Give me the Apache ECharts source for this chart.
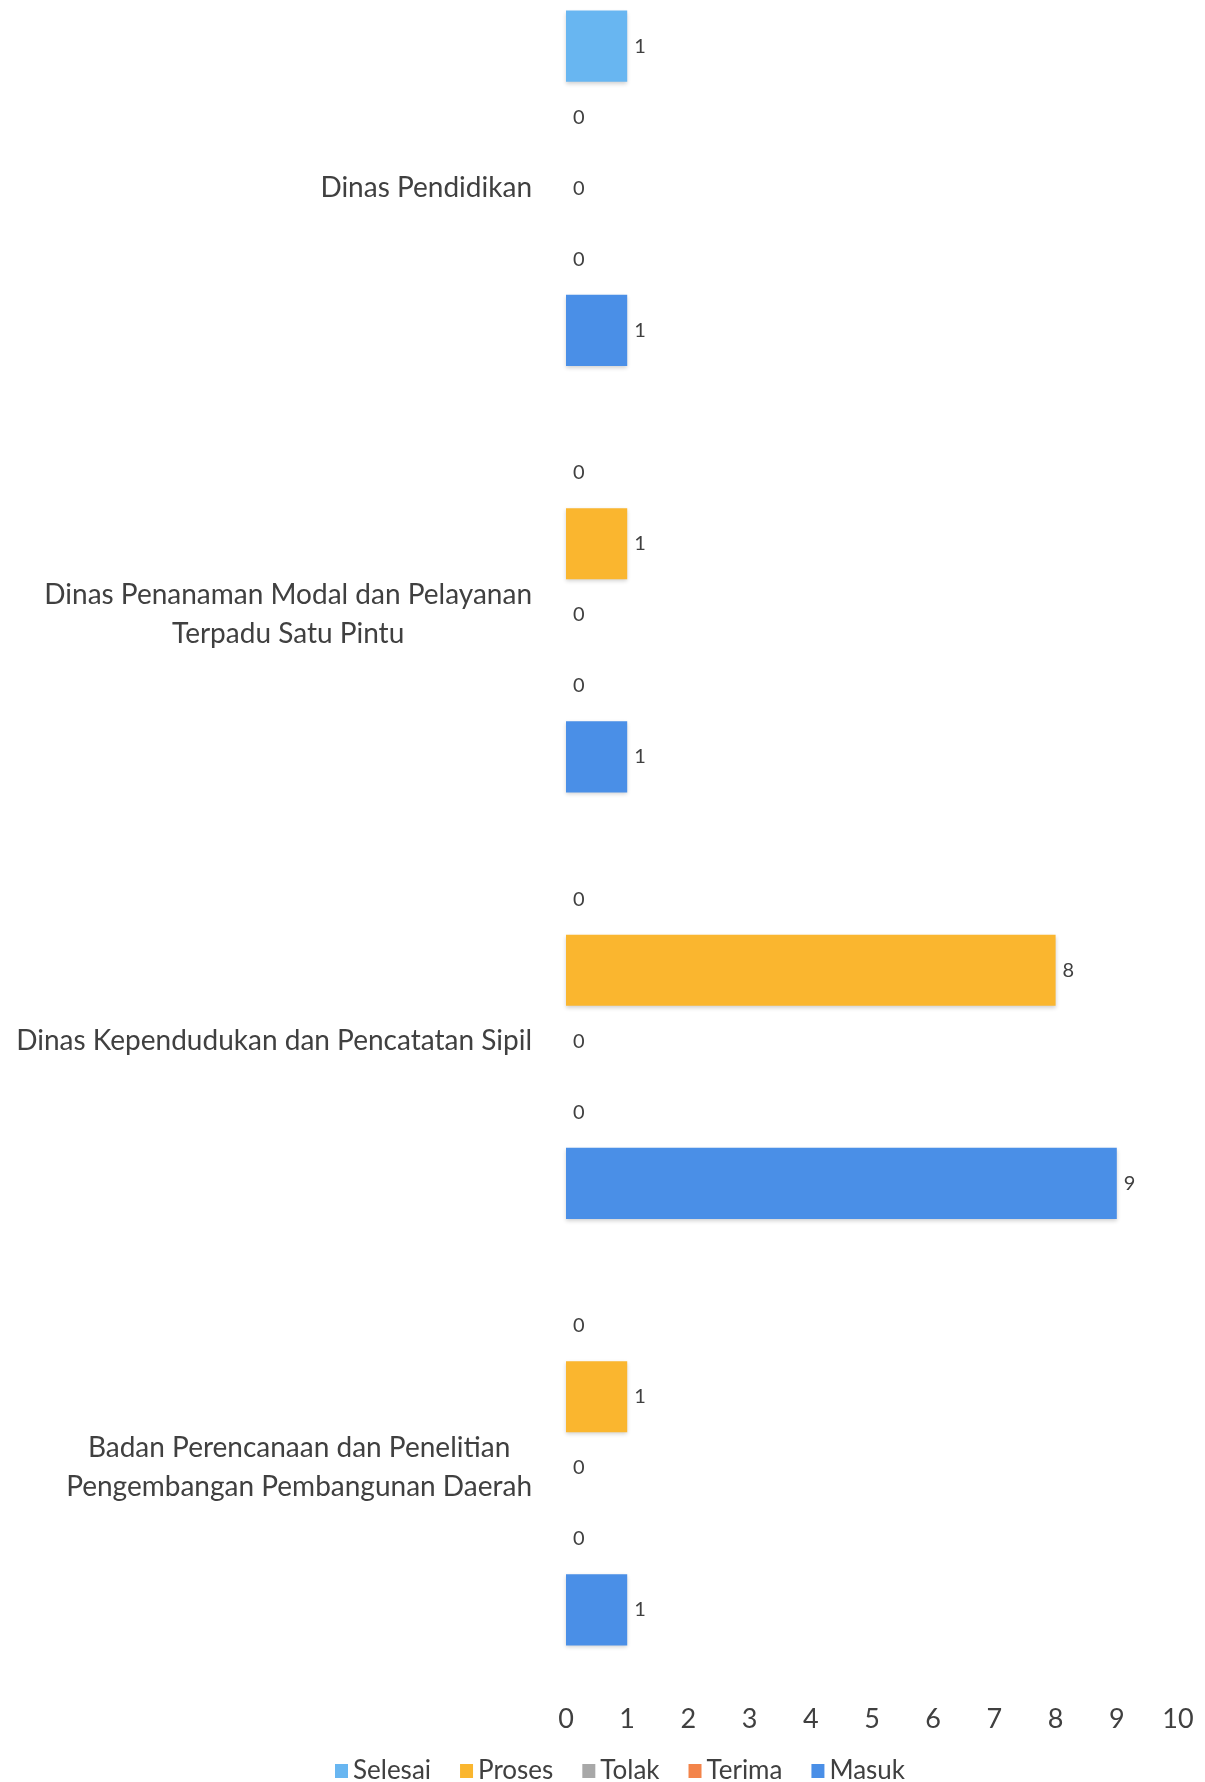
<!DOCTYPE html>
<html>
<head>
<meta charset="utf-8">
<script src="https://cdn.jsdelivr.net/npm/echarts@6/dist/echarts.min.js"></script>
<style>
html,body{margin:0;padding:0;background:#fff;overflow:hidden;width:1205px;height:1782px;position:relative;}
#chart{position:absolute;left:0;top:-25px;width:1205px;height:1807px;}
</style>
</head>
<body>
<div id="chart"></div>
<script>
// Categories, bottom to top
const categories = [
  'Badan Perencanaan dan Penelitian\nPengembangan Pembangunan Daerah',
  'Dinas Kependudukan dan Pencatatan Sipil',
  'Dinas Penanaman Modal dan Pelayanan\nTerpadu Satu Pintu',
  'Dinas Pendidikan'
];
const seriesNames = ['Selesai', 'Proses', 'Tolak', 'Terima', 'Masuk'];
const selesai = [0, 0, 0, 1];
const proses  = [1, 8, 1, 0];
const tolak   = [0, 0, 0, 0];
const terima  = [0, 0, 0, 0];
const masuk   = [1, 9, 1, 1];
const xTicks = [0, 1, 2, 3, 4, 5, 6, 7, 8, 9, 10];

const colors = ['#68B6F1', '#FAB62F', '#A8A8A8', '#F3844A', '#4A8FE7'];
const values = [selesai, proses, tolak, terima, masuk];

const chart = echarts.init(document.getElementById('chart'));
const txt = '#404040';
const font = 'Lato, "Open Sans", sans-serif';

chart.setOption({
  backgroundColor: '#ffffff',
  animation: false,
  color: colors,
  grid: { left: 566, right: 27, top: 0, bottom: 101, containLabel: false },
  legend: {
    data: seriesNames,
    top: 1778,
    left: 330,
    itemWidth: 13,
    itemHeight: 14,
    itemGap: 29,
    icon: 'rect',
    textStyle: { fontSize: 26, color: txt, fontFamily: font }
  },
  xAxis: {
    type: 'value',
    min: xTicks[0],
    max: xTicks[xTicks.length - 1],
    interval: 1,
    splitLine: { show: false },
    axisLine: { show: false },
    axisTick: { show: false },
    axisLabel: { fontSize: 27, color: txt, fontFamily: font, margin: 25 }
  },
  yAxis: {
    type: 'category',
    data: categories,
    axisLine: { show: false },
    axisTick: { show: false },
    axisLabel: {
      margin: 34,
      color: txt,
      fontFamily: font,
      fontSize: 28,
      lineHeight: 39,
      formatter: function (v) {
        return v.split('\n').map(function (l) { return '{c|' + l + '}'; }).join('\n');
      },
      rich: { c: { align: 'center', fontSize: 28, lineHeight: 39, color: txt, fontFamily: font } }
    }
  },
  series: seriesNames.map(function (name, i) {
    return {
      name: name,
      type: 'bar',
      data: values[i],
      barGap: '0%',
      barCategoryGap: '16.7%',
      itemStyle: {
        color: colors[i],
        shadowColor: 'rgba(0,0,0,0.18)',
        shadowBlur: 4,
        shadowOffsetY: 2
      },
      label: {
        show: true,
        position: 'right',
        distance: 7,
        fontSize: 20,
        color: txt,
        fontFamily: font
      }
    };
  })
});
</script>
</body>
</html>
